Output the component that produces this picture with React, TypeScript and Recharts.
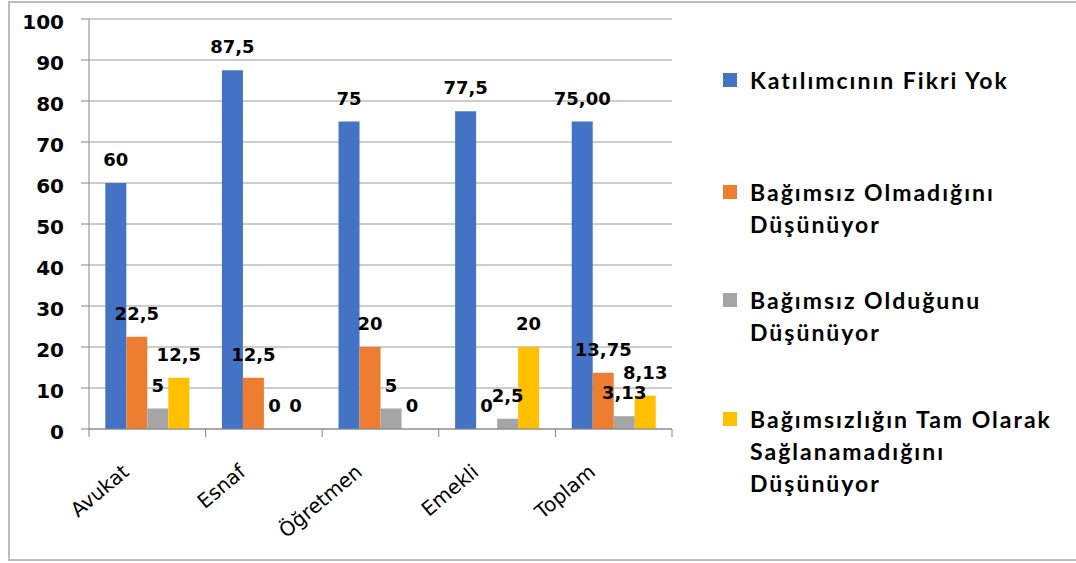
import React from 'react';
import { BarChart, Bar, XAxis, YAxis, CartesianGrid, LabelList, Legend } from 'recharts';

// Categories and series values
const categories = ['Avukat', 'Esnaf', 'Öğretmen', 'Emekli', 'Toplam'];
const fikriYok = [60, 87.5, 75, 77.5, 75];
const olmadigini = [22.5, 12.5, 20, 0, 13.75];
const oldugunu = [5, 0, 5, 2.5, 3.13];
const tamOlarak = [12.5, 0, 0, 20, 8.13];
const yTicks = [0, 10, 20, 30, 40, 50, 60, 70, 80, 90, 100];

const seriesNames = [
  'Katılımcının Fikri Yok',
  'Bağımsız Olmadığını\nDüşünüyor',
  'Bağımsız Olduğunu\nDüşünüyor',
  'Bağımsızlığın Tam Olarak\nSağlanamadığını\nDüşünüyor',
];
const seriesColors = ['#4472C4', '#ED7D31', '#A5A5A5', '#FFC000'];
const seriesValues = [fikriYok, olmadigini, oldugunu, tamOlarak];
const seriesKeys = ['s0', 's1', 's2', 's3'];

// the total row is printed with two decimals, the rest as they are; comma as decimal mark
const fmt = (v: number, catIndex: number) =>
  (catIndex === categories.length - 1 ? v.toFixed(2) : String(v)).replace('.', ',');

const data = categories.map((name, i) => {
  const row: Record<string, any> = { name };
  seriesKeys.forEach((k, s) => {
    row[k] = seriesValues[s][i];
    row[k + 'Label'] = fmt(seriesValues[s][i], i);
  });
  return row;
});

const AXIS_GRAY = '#868686';
const NUM_FONT = '"DejaVu Sans", Verdana, sans-serif';
const LEGEND_FONT = 'Lato, "Open Sans", sans-serif';

const CategoryTick = (props: any) => {
  const { x, y, payload, index, visibleTicksCount, width } = props;
  const count = visibleTicksCount || categories.length;
  const band = (typeof width === 'number' ? width : 583) / count;
  const lx = x - 17;
  const ly = y + 45;
  return (
    <g>
      <line x1={x - band / 2} x2={x - band / 2} y1={y} y2={y + 8} stroke={AXIS_GRAY} />
      {index === count - 1 && (
        <line x1={x + band / 2} x2={x + band / 2} y1={y} y2={y + 8} stroke={AXIS_GRAY} />
      )}
      <text
        x={lx}
        y={ly}
        transform={`rotate(-40 ${lx} ${ly})`}
        textAnchor="end"
        fontFamily={NUM_FONT}
        fontSize={20}
        fill="#000"
      >
        {payload.value}
      </text>
    </g>
  );
};

// vertical spacing before each legend entry
const itemGaps = [0, 80, 44, 55];

// value label drawn above each bar, zero values included
const TopLabel = (props: any) => {
  const { x, y, width, value } = props;
  if (value === undefined || value === null) return null;
  return (
    <text
      x={x + width / 2}
      y={y - 17}
      textAnchor="middle"
      fill="#000"
      fontSize={18}
      fontWeight={700}
      fontFamily={NUM_FONT}
    >
      {value}
    </text>
  );
};

const LegendBox = () => (
  <div style={{ paddingTop: 4, paddingLeft: 7 }}>
    {seriesNames.map((name, i) => (
      <div key={i} style={{ display: 'flex', alignItems: 'flex-start', marginTop: itemGaps[i] }}>
        <div
          style={{
            width: 14,
            height: 14,
            marginTop: 9,
            background: seriesColors[i],
            flex: 'none',
          }}
        />
        <div
          style={{
            marginLeft: 13,
            fontFamily: LEGEND_FONT,
            fontWeight: 700,
            fontSize: 23,
            lineHeight: '32px',
            letterSpacing: 2,
            color: '#000',
            whiteSpace: 'pre',
          }}
        >
          {name}
        </div>
      </div>
    ))}
  </div>
);

export default function App() {
  return (
    <div
      style={{
        position: 'absolute',
        left: 0,
        top: 0,
        width: 1076,
        height: 563,
        overflow: 'hidden',
        background: '#fff',
      }}
    >
      <div
        style={{
          position: 'absolute',
          left: 8,
          top: 1,
          width: 1080,
          height: 556,
          borderTop: '2px solid #bdbdbd',
          borderLeft: '2px solid #bdbdbd',
          borderBottom: '2px solid #bdbdbd',
        }}
      />
      <div style={{ position: 'absolute', left: 0, top: 0 }}>
        <BarChart
          width={1076}
          height={563}
          data={data}
          margin={{ top: 19, right: 404, bottom: 14, left: 9 }}
          barCategoryGap="14%"
          barGap={0}
        >
          <CartesianGrid vertical={false} stroke="#9a9a9a" />
          <XAxis
            dataKey="name"
            height={120}
            axisLine={{ stroke: AXIS_GRAY }}
            tickLine={false}
            tickSize={0}
            tickMargin={0}
            interval={0}
            tick={<CategoryTick />}
          />
          <YAxis
            width={80}
            domain={[0, 100]}
            ticks={yTicks}
            interval={0}
            axisLine={{ stroke: AXIS_GRAY }}
            tickLine={{ stroke: AXIS_GRAY }}
            tickSize={8}
            tickMargin={17}
            tick={{ fill: '#000', fontSize: 20, fontWeight: 700, fontFamily: NUM_FONT, dy: 3 }}
          />
          <Legend
            layout="horizontal"
            verticalAlign="middle"
            align="center"
            wrapperStyle={{ left: 716, top: 60, width: 360, height: 470 }}
            content={<LegendBox />}
          />
          {seriesKeys.map((k, s) => (
            <Bar
              key={k}
              dataKey={k}
              name={seriesNames[s]}
              fill={seriesColors[s]}
              minPointSize={0.01}
              isAnimationActive={false}
            >
              <LabelList dataKey={k + 'Label'} content={<TopLabel />} />
            </Bar>
          ))}
        </BarChart>
      </div>
    </div>
  );
}
